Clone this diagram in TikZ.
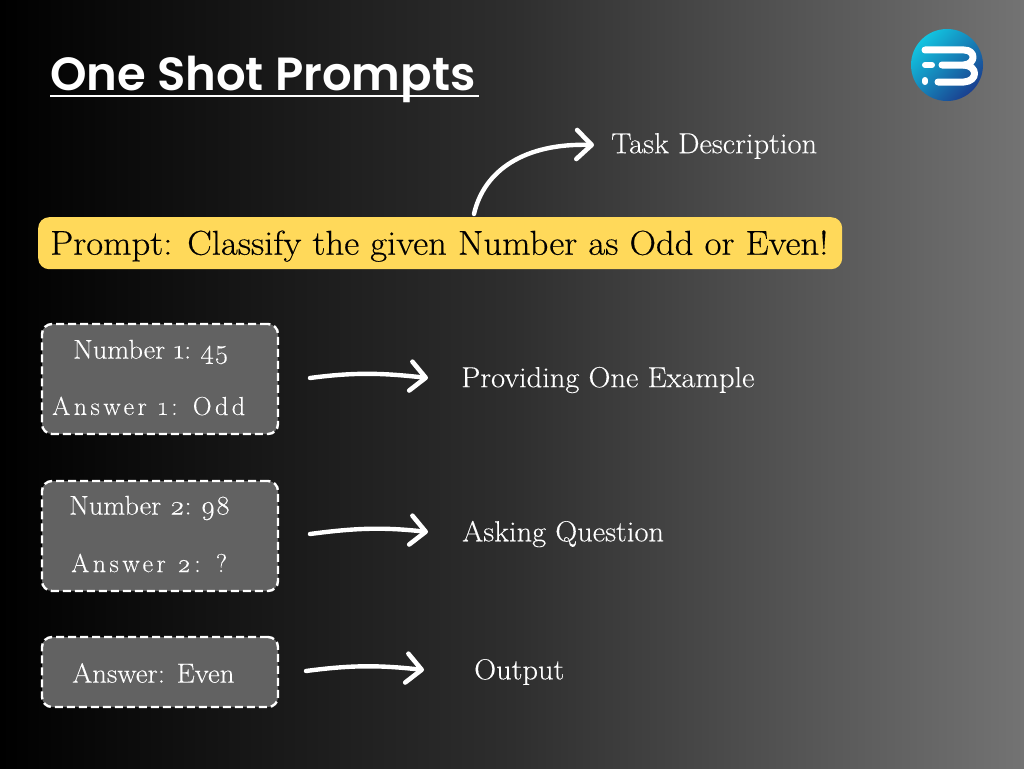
\documentclass[tikz,border=0pt]{standalone}
\usepackage{fontspec}
\setmainfont{Latin Modern Roman}[Numbers=OldStyle,FakeStretch=1.05,FakeBold=0.25]
\newfontfamily\promptfont{Latin Modern Roman}[Numbers=OldStyle,FakeStretch=1.065,FakeBold=0.4]
\newfontfamily\wideboxfont{Latin Modern Roman}[Numbers=OldStyle,FakeStretch=1.05,FakeBold=0.25]
\newfontfamily\titlefont{Poppins SemiBold}
\newfontfamily\spacedfont{Latin Modern Roman}[Numbers=OldStyle,LetterSpace=13.5,FakeBold=0.2]
\usetikzlibrary{arrows.meta,calc}
\definecolor{bgmid}{HTML}{2E2E2E}
\definecolor{bgend}{HTML}{737373}
\definecolor{boxfill}{HTML}{626262}
\definecolor{promptfill}{HTML}{FFD95A}
\definecolor{logoa}{HTML}{12C4E0}
\definecolor{logob}{HTML}{1A3F8F}
\tikzset{
  x=1pt,y=-1pt,
  dashbox/.style={draw=white,fill=boxfill,line width=2.4pt,dash pattern=on 8pt off 4pt,rounded corners=10pt,minimum width=236pt,inner sep=0pt,outer sep=0pt,anchor=north west},
  lab/.style={text=white,font=\fontsize{29}{30}\selectfont,anchor=west,inner sep=0pt},
  boxtext/.style={text=white,font=\fontsize{27}{28}\selectfont,anchor=west,inner sep=0pt},
  spaced/.style={text=white,font=\spacedfont\fontsize{26}{28}\selectfont,anchor=west,inner sep=0pt},
  hand/.style={draw=white,line width=4.4pt,line cap=round,line join=round,-{Straight Barb[length=15pt,width=29pt,line width=4.6pt,round]}},
  logostroke/.style={draw=white,line width=7pt,line cap=round,line join=round}
}
\begin{document}
\begin{tikzpicture}
\useasboundingbox (0,0) rectangle (1024,768);
\shade[left color=black,right color=bgend,middle color=bgmid,shading angle=90] (0,0) rectangle (1024,768);
% title
\node[text=white,font=\titlefont\fontsize{46.5}{50}\selectfont,anchor=base west,inner sep=0pt] (title) at (50,90) {One Shot Prompts};
\draw[white,line width=2.6pt] (50,96) -- (479,96);
% logo
\shade[left color=logoa,right color=logob,shading angle=45] (947,65) circle (36);
\node[inner sep=0pt,minimum size=0pt] (logo) at (947,65) {};
\draw[logostroke] (925,50) -- (964,50) .. controls (976,50) and (976,64) .. (964,65) -- (942,65);
\draw[logostroke] (964,65) .. controls (978,66) and (978,81) .. (964,82) -- (938,82);
\draw[logostroke,line width=6pt] (925,65) -- (932,65);
\draw[logostroke,line width=6pt] (925,80) -- (925,82);
% prompt
\node[fill=promptfill,rounded corners=11pt,minimum width=804pt,minimum height=52pt,inner sep=0pt,anchor=north west] (prompt) at (38,217) {};
\node[anchor=west,inner sep=0pt,font=\promptfont\fontsize{34.5}{36}\selectfont] (ptext) at (50,246) {Prompt: Classify the given Number as Odd or Even!};
% labels
\node[lab] (task) at (611,146) {Task Description};
\node[lab] (lab1) at (461,380) {Providing One Example};
\node[lab] (lab2) at (462,534) {Asking Question};
\node[lab] (lab3) at (474,672) {Output};
% boxes
\node[dashbox,minimum height=110pt] (box1) at (42,324) {};
\node[dashbox,minimum height=110pt] (box2) at (42,481) {};
\node[dashbox,minimum height=70pt] (box3) at (42,637) {};
\node[boxtext] (n1) at (73,352) {Number 1:\hspace{9pt}45};
\node[spaced] (a1) at (52,406) {Answer 1: Odd};
\node[boxtext] (n2) at (69,508) {Number 2:\hspace{9pt}98};
\node[spaced] (a2) at (71,563) {Answer 2: ?};
\node[boxtext,font=\wideboxfont\fontsize{27.5}{30}\selectfont] (a3) at (72,673) {Answer: Even};
% arrows
\coordinate (tstart) at (474,214);
\draw[hand] (tstart) .. controls (484,170) and (525,143) .. (594,145);
\draw[hand] ($(box1.east)+(32,-1)$) .. controls +(45,-6) and +(-45,-5) .. ($(lab1.west)+(-33,-2)$);
\draw[hand] ($(box2.east)+(32,-2)$) .. controls +(45,-6) and +(-45,-5) .. ($(lab2.west)+(-34,-2)$);
\draw[hand] ($(box3.east)+(28,-1)$) .. controls +(45,-6) and +(-45,-5) .. ($(lab3.west)+(-50,-2)$);
\end{tikzpicture}
\end{document}
